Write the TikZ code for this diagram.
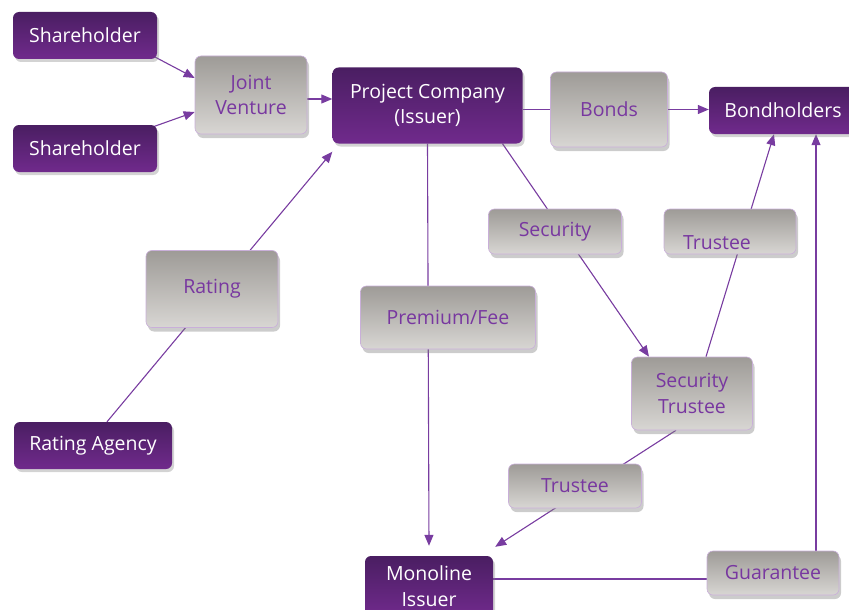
\documentclass[tikz,border=0pt]{standalone}
\usepackage{fontspec}
\setmainfont{Open Sans}
\usetikzlibrary{arrows.meta,shadows,backgrounds}
\definecolor{pdark}{RGB}{74,30,98}
\definecolor{plight}{RGB}{112,42,140}
\definecolor{gdark}{RGB}{158,155,151}
\definecolor{glight}{RGB}{216,214,211}
\definecolor{ptext}{RGB}{120,55,160}
\definecolor{pline}{RGB}{120,60,160}
\tikzset{
  base/.style={rounded corners=6pt, align=center, inner sep=0pt,
    font=\fontsize{19.5}{25.5}\selectfont},
  pbox/.style={base, top color=pdark, bottom color=plight, draw=none, text=white,
    drop shadow={opacity=0.35, shadow xshift=2pt, shadow yshift=-3pt}},
  gbox/.style={base, top color=gdark, bottom color=glight, draw=ptext!40, line width=0.6pt, text=ptext,
    drop shadow={opacity=0.4, shadow xshift=2pt, shadow yshift=-4pt}},
  gtext/.style={font=\fontsize{19.5}{25.5}\selectfont, text=ptext, inner sep=0pt},
  conn/.style={draw=pline, line width=1.1pt},
  arr/.style={conn, -{Triangle[length=11pt,width=9pt]}}
}
\begin{document}
\begin{tikzpicture}[x=1pt,y=-1pt]
\useasboundingbox (0,0) rectangle (849,610);
% nodes
\node[pbox, minimum width=144pt, minimum height=47pt] (sh1) at (85,35.5) {Shareholder};
\node[pbox, minimum width=144pt, minimum height=47pt] (sh2) at (85,148.5) {Shareholder};
\node[gbox, minimum width=112pt, minimum height=78pt] (jv) at (251,95) {Joint\\Venture};
\node[pbox, minimum width=190pt, minimum height=76pt] (pc) at (427.5,105.5) {Project Company\\(Issuer)};
\node[gbox, minimum width=117pt, minimum height=75pt] (bonds) at (609,109.5) {Bonds};
\node[pbox, minimum width=148pt, minimum height=47pt] (bh) at (783,110.5) {Bondholders};
\node[gbox, minimum width=133pt, minimum height=45pt] (sec) at (555,231.5) {Security};
\node[gbox, minimum width=132pt, minimum height=45pt] (trt) at (730,231.5) {};
\node[gtext] at (717,243) {Trustee};
\node[gbox, minimum width=132pt, minimum height=77pt] (rat) at (212,289) {Rating};
\node[gbox, minimum width=175pt, minimum height=63pt] (prem) at (448,317.5) {Premium/Fee};
\node[gbox, minimum width=121pt, minimum height=73pt] (st) at (692,393.5) {Security\\Trustee};
\node[pbox, minimum width=158pt, minimum height=47pt] (ra) at (93,445.5) {Rating Agency};
\node[gbox, minimum width=133pt, minimum height=44pt] (trb) at (575,486) {Trustee};
\node[pbox, minimum width=128pt, minimum height=60pt] (mono) at (429,586) {Monoline\\Issuer};
\node[gbox, minimum width=132pt, minimum height=44pt] (gua) at (773,573) {Guarantee};
% connectors
\begin{pgfonlayer}{background}
\draw[arr] ([shift={(69pt,-21pt)}]sh1.center) -- ([yshift=17pt]jv.west);
\draw[arr] ([shift={(69pt,22pt)}]sh2.center) -- ([yshift=-17pt]jv.west);
\draw[arr] ([yshift=-4pt]jv.east) -- ([yshift=-4pt]jv.east -| pc.west);
\draw[conn] (pc.east |- bonds.west) -- (bonds.west);
\draw[arr] (bonds.east) -- (bonds.east -| bh.west);
\draw[arr] (pc.south) -- ([yshift=10pt]mono.north);
\draw[arr] ([xshift=75pt]pc.south) -- ([xshift=-43pt]st.north);
\draw[arr] ([xshift=14pt]st.north) -- ([xshift=-9pt]bh.south);
\draw[arr] ([xshift=-16pt]st.south) -- ([shift={(2pt,9pt)}]mono.north east);
\draw[arr] ([xshift=14pt]ra.north) -- ([yshift=-8pt]pc.south west);
\draw[conn] ([yshift=7pt]mono.east) -- ([yshift=7pt]mono.east -| gua.west);
\draw[arr] ([xshift=43pt]gua.north) -- ([xshift=43pt]gua.north |- bh.south);
\end{pgfonlayer}
\end{tikzpicture}
\end{document}
